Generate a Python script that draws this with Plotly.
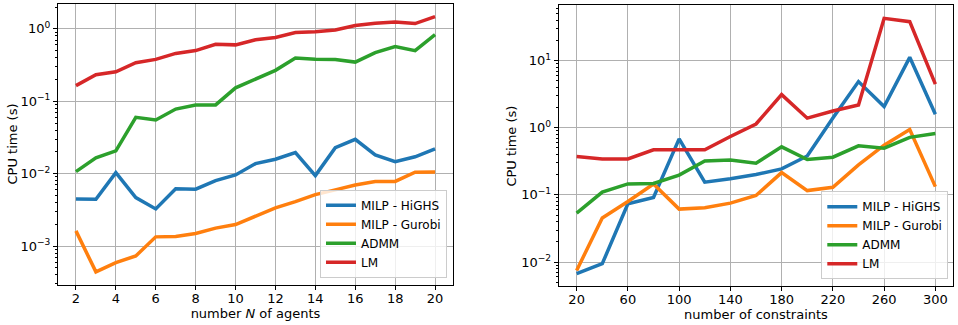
import plotly.graph_objects as go
import numpy as np

# ---- data: left panel (number N of agents) ----
agents = [2, 3, 4, 5, 6, 7, 8, 9, 10, 11, 12, 13, 14, 15, 16, 17, 18, 19, 20]
left_highs = [0.00448, 0.00443, 0.0103, 0.00467, 0.00326, 0.0062, 0.0061, 0.0080, 0.0096, 0.01375,
              0.0158, 0.0195, 0.0094, 0.0228, 0.0298, 0.0181, 0.01465, 0.0171, 0.0219]
left_gurobi = [0.00162, 0.00044, 0.00059, 0.00073, 0.00134, 0.00136, 0.00149, 0.00177, 0.00198, 0.00258,
               0.00337, 0.00411, 0.00513, 0.00596, 0.00698, 0.00776, 0.0078, 0.01045, 0.0105]
left_admm = [0.01066, 0.0165, 0.0206, 0.060, 0.055, 0.078, 0.0887, 0.089, 0.153, 0.200,
             0.267, 0.394, 0.380, 0.378, 0.347, 0.47, 0.57, 0.50, 0.83]
left_lm = [0.164, 0.232, 0.255, 0.34, 0.378, 0.457, 0.50, 0.61, 0.60, 0.705,
           0.76, 0.89, 0.91, 0.96, 1.11, 1.19, 1.24, 1.18, 1.47]

# ---- data: right panel (number of constraints) ----
constraints = [20, 40, 60, 80, 100, 120, 140, 160, 180, 200, 220, 240, 260, 280, 300]
right_highs = [0.0067, 0.00944, 0.0738, 0.0914, 0.684, 0.155, 0.174, 0.201, 0.244, 0.38,
               1.4, 4.87, 2.07, 11.2, 1.59]
right_gurobi = [0.0075, 0.0452, 0.0798, 0.145, 0.0615, 0.0643, 0.0755, 0.098, 0.215, 0.116,
                0.130, 0.28, 0.55, 0.94, 0.133]
right_admm = [0.0536, 0.110, 0.146, 0.148, 0.197, 0.320, 0.330, 0.297, 0.52, 0.336,
              0.365, 0.538, 0.497, 0.72, 0.82]
right_lm = [0.372, 0.344, 0.344, 0.469, 0.469, 0.469, 0.74, 1.14, 3.12, 1.39,
            1.78, 2.19, 42.7, 38.0, 4.46]

series_names = ["MILP - HiGHS", "MILP - Gurobi", "ADMM", "LM"]
colors = ["#1f77b4", "#ff7f0e", "#2ca02c", "#d62728"]

left_x_ticks = [2, 4, 6, 8, 10, 12, 14, 16, 18, 20]
right_x_ticks = [20, 60, 100, 140, 180, 220, 260, 300]
left_y_ticks = [1e-3, 1e-2, 1e-1, 1e0]
left_y_labels = ["10<sup>\u22123</sup>", "10<sup>\u22122</sup>", "10<sup>\u22121</sup>", "10<sup>0</sup>"]
right_y_ticks = [1e-2, 1e-1, 1e0, 1e1]
right_y_labels = ["10<sup>\u22122</sup>", "10<sup>\u22121</sup>", "10<sup>0</sup>", "10<sup>1</sup>"]
y_title = "CPU time (s)"

FONT = "DejaVu Sans"
fig = go.Figure()

left_series = [left_highs, left_gurobi, left_admm, left_lm]
right_series = [right_highs, right_gurobi, right_admm, right_lm]
for name, col, ys in zip(series_names, colors, left_series):
    fig.add_trace(go.Scatter(x=agents, y=ys, mode="lines", name=name,
                             line=dict(color=col, width=3.5), xaxis="x", yaxis="y",
                             legend="legend"))
for name, col, ys in zip(series_names, colors, right_series):
    fig.add_trace(go.Scatter(x=constraints, y=ys, mode="lines", name=name,
                             line=dict(color=col, width=3.5), xaxis="x2", yaxis="y2",
                             legend="legend2"))

def minor_vals(lo, hi):
    out = []
    for e in range(lo, hi + 1):
        for m in range(2, 10):
            out.append(m * 10.0 ** e)
    return out

common_axis = dict(showline=True, linecolor="black", linewidth=1, mirror=True,
                   ticks="outside", ticklen=4, tickwidth=1, tickcolor="black",
                   showgrid=True, gridcolor="#b0b0b0", gridwidth=0.8, zeroline=False,
                   automargin=False,
                   tickfont=dict(family=FONT, size=13, color="black"))

W, H = 958, 325
fig.update_layout(
    width=W, height=H,
    margin=dict(l=0, r=0, t=0, b=0, autoexpand=False),
    paper_bgcolor="white", plot_bgcolor="white",
    font=dict(family=FONT, size=13, color="black"),
    xaxis=dict(domain=[58 / W, 453 / W], range=[1.1, 20.9], tickvals=left_x_ticks,
               ticklabelstandoff=-3,
               title=dict(text="number <i>N</i> of agents", font=dict(size=13), standoff=0),
               anchor="y", **common_axis),
    yaxis=dict(domain=[(H - 285) / H, (H - 4) / H], type="log",
               range=[np.log10(2.9e-4), np.log10(2.2)],
               tickvals=left_y_ticks, ticktext=left_y_labels,
               minor=dict(tickvals=minor_vals(-4, 0), ticks="outside", ticklen=2,
                          tickcolor="black", showgrid=False),
               anchor="x", **common_axis),
    xaxis2=dict(domain=[558.7 / W, 953.3 / W], range=[6, 314], tickvals=right_x_ticks,
                ticklabelstandoff=-3,
                title=dict(text="number of constraints", font=dict(size=13), standoff=0),
                anchor="y2", **common_axis),
    yaxis2=dict(domain=[(H - 286) / H, (H - 5.3) / H], type="log",
                range=[np.log10(4.4e-3), np.log10(66.7)],
                tickvals=right_y_ticks, ticktext=right_y_labels,
                minor=dict(tickvals=minor_vals(-3, 1), ticks="outside", ticklen=2,
                           tickcolor="black", showgrid=False),
                anchor="x2", **common_axis),
    legend=dict(x=447 / W, y=(H - 277.7) / H, xanchor="right", yanchor="bottom",
                bgcolor="rgba(255,255,255,0.8)", bordercolor="#cccccc", borderwidth=1,
                font=dict(family=FONT, size=12), tracegroupgap=0, itemwidth=30),
    legend2=dict(x=948.3 / W, y=(H - 279.3) / H, xanchor="right", yanchor="bottom",
                 bgcolor="rgba(255,255,255,0.8)", bordercolor="#cccccc", borderwidth=1,
                 font=dict(family=FONT, size=12), tracegroupgap=0, itemwidth=30),
    annotations=[
        dict(text=y_title, textangle=-90, x=12 / W, y=(H - 144.5) / H, xref="paper", yref="paper",
             showarrow=False, font=dict(family=FONT, size=13, color="black"),
             xanchor="center", yanchor="middle"),
        dict(text=y_title, textangle=-90, x=512 / W, y=(H - 145.6) / H, xref="paper", yref="paper",
             showarrow=False, font=dict(family=FONT, size=13, color="black"),
             xanchor="center", yanchor="middle"),
    ],
)

fig.write_html("out.html", config={"displayModeBar": False},
               post_script="document.body.style.margin='0';document.body.style.overflow='hidden';")
